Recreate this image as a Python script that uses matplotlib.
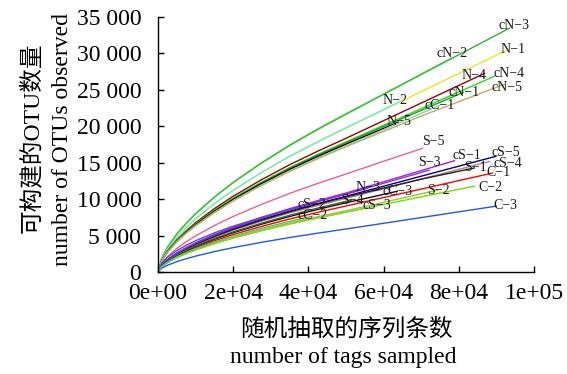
import matplotlib
matplotlib.use("Agg")
import matplotlib.pyplot as plt

plt.rcParams['font.family'] = ['Liberation Serif', 'Noto Sans CJK SC']
plt.rcParams['axes.unicode_minus'] = True

# ---- data ----
head = [0, 1000, 2500, 5000, 7500, 10000, 15000, 20000, 27500, 35000, 42500, 50000]
short = [0, 1000, 2500, 5000, 7500, 10000, 15000, 20000, 27500, 35000]
labels = ["cN−3", "cN−2", "N−1", "N−2", "N−4", "cN−4", "cN−1", "N−5", "cC−1", "cN−5",
          "S−5", "cS−1", "S−3", "cS−5", "cS−4", "S−1", "C−1", "C−2", "S−2", "C−3",
          "N−3", "cC−3", "S−4", "cS−3", "cS−2", "cC−2"]
series_x = [
    head + [70000, 93600],
    head + [65000, 78200],
    head + [70000, 92800],
    head + [64400],
    head + [70000, 87000],
    head + [70000, 89600],
    head + [65000, 81400],
    head + [64100],
    head + [62500, 75000],
    head + [70000, 92300],
    head + [60000, 70500],
    head + [65000, 79000],
    head + [60000, 72300],
    head + [70000, 90000],
    head + [70000, 88300],
    head + [70000, 84300],
    head + [70000, 89100],
    head + [70000, 84300],
    head + [62000, 74500],
    head + [70000, 90200],
    head + [55900],
    head + [63800],
    head + [51600],
    head + [58200],
    short + [41000],
    short + [41200],
]
series_y = [
    [0, 1920, 3390, 5210, 6690, 8010, 10290, 12300, 14970, 17400, 19620, 21700, 27110, 33500],
    [0, 1910, 3380, 5200, 6680, 7990, 10260, 12280, 14940, 17360, 19570, 21650, 25770, 29400],
    [0, 1750, 3080, 4740, 6100, 7290, 9370, 11200, 13630, 15850, 17860, 19760, 24750, 30450],
    [0, 1750, 3090, 4750, 6110, 7310, 9390, 11230, 13660, 15880, 17900, 19800, 23400],
    [0, 1620, 2860, 4400, 5660, 6770, 8700, 10400, 12660, 14720, 16590, 18350, 23190, 27300],
    [0, 1580, 2790, 4280, 5510, 6590, 8460, 10120, 12320, 14320, 16140, 17850, 22420, 26900],
    [0, 1570, 2770, 4260, 5480, 6550, 8410, 10060, 12250, 14240, 16050, 17750, 21070, 24700],
    [0, 1550, 2740, 4210, 5410, 6480, 8320, 9950, 12110, 14080, 15870, 17550, 20600],
    [0, 1530, 2700, 4150, 5340, 6380, 8200, 9810, 11940, 13870, 15640, 17300, 20100, 22900],
    [0, 1520, 2680, 4130, 5310, 6350, 8150, 9750, 11870, 13790, 15550, 17200, 21400, 25800],
    [0, 1190, 2100, 3230, 4150, 4960, 6380, 7630, 9280, 10790, 12160, 13450, 15200, 17000],
    [0, 960, 1690, 2600, 3340, 4000, 5140, 6150, 7480, 8690, 9800, 10840, 13150, 15300],
    [0, 950, 1670, 2570, 3300, 3950, 5070, 6070, 7380, 8580, 9670, 10700, 12180, 14000],
    [0, 920, 1620, 2500, 3210, 3840, 4930, 5900, 7180, 8340, 9400, 10400, 13150, 15900],
    [0, 890, 1580, 2420, 3120, 3730, 4790, 5730, 6970, 8100, 9130, 10100, 12760, 15200],
    [0, 910, 1610, 2470, 3180, 3800, 4880, 5840, 7110, 8260, 9310, 10300, 12740, 14300],
    [0, 800, 1410, 2170, 2800, 3340, 4290, 5140, 6250, 7270, 8190, 9060, 11380, 13600],
    [0, 730, 1280, 1980, 2540, 3040, 3900, 4670, 5680, 6600, 7440, 8230, 10310, 11800],
    [0, 740, 1310, 2020, 2590, 3100, 3980, 4760, 5800, 6740, 7590, 8400, 9800, 11250],
    [0, 520, 920, 1420, 1820, 2180, 2800, 3350, 4070, 4730, 5330, 5900, 7470, 9060],
    [0, 950, 1670, 2570, 3300, 3950, 5070, 6070, 7380, 8580, 9670, 10700, 11530],
    [0, 840, 1480, 2280, 2930, 3510, 4500, 5390, 6560, 7620, 8590, 9500, 11100],
    [0, 860, 1510, 2330, 2990, 3580, 4600, 5500, 6690, 7780, 8770, 9700, 9880],
    [0, 720, 1280, 1970, 2530, 3030, 3890, 4650, 5660, 6580, 7410, 8200, 9060],
    [0, 1210, 2000, 2930, 3670, 4290, 5370, 6290, 7490, 8550, 9330],
    [0, 770, 1350, 2080, 2670, 3200, 4110, 4910, 5990, 6950, 7690],
]
colors = ["#2DB52D", "#3CC83C", "#E8E820", "#66F0D0", "#A00000", "#22DD22", "#18A818",
          "#000000", "#A8BCCC", "#B8B060", "#F06090", "#A020F0", "#9932CC", "#000080",
          "#C08080", "#202020", "#FF0000", "#70E000", "#88CC44", "#1E5AF0", "#8A2BE2",
          "#101010", "#2E6B2E", "#9ACD32", "#5A40FF", "#50C850"]

xticks = [0, 20000, 40000, 60000, 80000, 100000]
xtick_labels = ["0e+00", "2e+04", "4e+04", "6e+04", "8e+04", "1e+05"]
yticks = [0, 5000, 10000, 15000, 20000, 25000, 30000, 35000]
ytick_labels = ["0", "5 000", "10 000", "15 000", "20 000", "25 000", "30 000", "35 000"]

# label nudges (pixels) relative to the end of each curve
label_nudge = {"cN−3": (4, 2), "N−1": (6, 1), "N−4": (-11, -2), "cN−4": (14, 3),
               "cN−2": (0, 4), "cN−5": (2, -3), "N−2": (-5, 1), "S−5": (10, 7),
               "cS−1": (12, 5), "S−3": (0, 8), "cS−5": (9, 4), "cS−4": (18, -2),
               "C−1": (5, 0), "C−2": (15, -1), "C−3": (8, 0)}

# ---- figure ----
fig = plt.figure(figsize=(5.67, 3.74), dpi=100)
ax = fig.add_axes([158 / 567, 1 - 272 / 374, (534 - 158) / 567, (272 - 17) / 374])

for xs, ys, c, lab in zip(series_x, series_y, colors, labels):
    ax.plot(xs, ys, color=c, lw=1.0, solid_capstyle='butt', solid_joinstyle='round')
for xs, ys, lab in zip(series_x, series_y, labels):
    dx, dy = label_nudge.get(lab, (0, 0))
    ax.annotate(lab, (xs[-1], ys[-1]), xytext=(dx, dy), textcoords='offset pixels',
                ha='center', va='center', fontsize=10, color='#1a1a1a')

ax.set_xlim(0, 100000)
ax.set_ylim(0, 35000)
ax.set_xticks(xticks)
ax.set_xticklabels(xtick_labels)
ax.set_yticks(yticks)
ax.set_yticklabels(ytick_labels)
ax.tick_params(direction='in', length=4, width=1, labelsize=17, pad=8, colors='black')
ax.tick_params(axis='y', pad=12)
for s in ['top', 'right']:
    ax.spines[s].set_visible(False)
for s in ['left', 'bottom']:
    ax.spines[s].set_linewidth(1.0)

fig.text(346 / 567, 1 - 330 / 374, "随机抽取的序列条数", ha='center', va='center', fontsize=17)
fig.text(343 / 567, 1 - 358 / 374, "number of tags sampled", ha='center', va='center', fontsize=17)
fig.text(32 / 567, 1 - 138 / 374, "可构建的OTU数量", ha='center', va='center', fontsize=17, rotation=90)
fig.text(62 / 567, 1 - 140 / 374, "number of OTUs observed", ha='center', va='center', fontsize=17, rotation=90)

fig.savefig("out.png", dpi=100)
